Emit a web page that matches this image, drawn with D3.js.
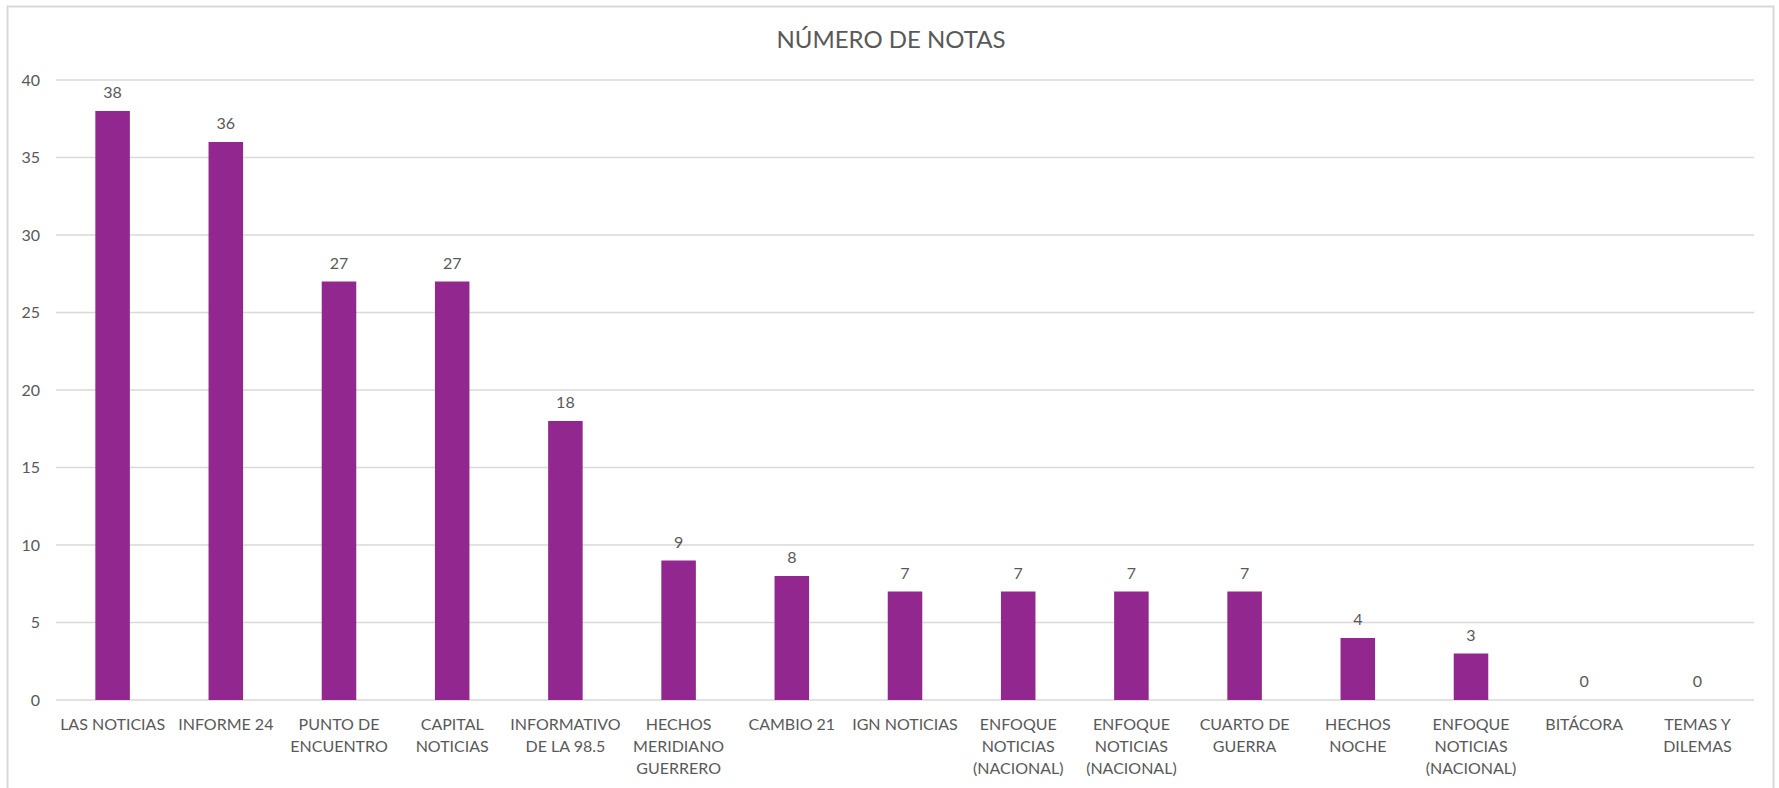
<!DOCTYPE html>
<meta charset="utf-8">
<head>
  <title>Número de notas</title>
  <script src="https://d3js.org/d3.v7.min.js"></script>
  <style>
    body { margin: 0; background: #fff; }
    text { font-family: Lato, "Open Sans", sans-serif; fill: #595959; }
    .grid line { stroke: #d9d9d9; stroke-width: 1.5px; }
  </style>
</head>
<body>
<script>

var categories = [
  "LAS NOTICIAS", "INFORME 24", "PUNTO DE ENCUENTRO", "CAPITAL NOTICIAS",
  "INFORMATIVO DE LA 98.5", "HECHOS MERIDIANO GUERRERO", "CAMBIO 21",
  "IGN NOTICIAS", "ENFOQUE NOTICIAS (NACIONAL)", "ENFOQUE NOTICIAS (NACIONAL)",
  "CUARTO DE GUERRA", "HECHOS NOCHE", "ENFOQUE NOTICIAS (NACIONAL)",
  "BITÁCORA", "TEMAS Y DILEMAS"
];
var values = [38, 36, 27, 27, 18, 9, 8, 7, 7, 7, 7, 4, 3, 0, 0];
var yTicks = [0, 5, 10, 15, 20, 25, 30, 35, 40];
var title = "NÚMERO DE NOTAS";

var W = 1779, H = 788;
var margin = {top: 80, right: 25, bottom: 88, left: 56};

var svg = d3.select("body").append("svg")
    .attr("width", W)
    .attr("height", H);

svg.append("rect")
    .attr("x", 0).attr("y", 0).attr("width", W).attr("height", H)
    .attr("fill", "#fff");

// chart frame
svg.append("rect")
    .attr("x", 7.5).attr("y", 6.5)
    .attr("width", 1766).attr("height", 800)
    .attr("fill", "none")
    .attr("stroke", "#d9d9d9")
    .attr("stroke-width", 2);

var x = d3.scaleBand()
    .domain(d3.range(categories.length))
    .range([margin.left, W - margin.right])
    .paddingInner(0.695)
    .paddingOuter(0.3475);

var y = d3.scaleLinear()
    .domain([0, 40])
    .range([H - margin.bottom, margin.top]);

// gridlines
svg.append("g")
    .attr("class", "grid")
    .selectAll("line")
    .data(yTicks)
  .enter().append("line")
    .attr("x1", margin.left)
    .attr("x2", W - margin.right)
    .attr("y1", function(d) { return y(d); })
    .attr("y2", function(d) { return y(d); });

// y axis labels
var yAxis = svg.append("g")
    .attr("transform", "translate(" + (margin.left - 16) + ",0)")
    .call(d3.axisLeft(y).tickValues(yTicks).tickSize(0).tickPadding(0));
yAxis.select(".domain").remove();
yAxis.selectAll("text")
    .style("font-size", "16px")
    .attr("fill", "#595959");

// bars
svg.selectAll("rect.bar")
    .data(values)
  .enter().append("rect")
    .attr("class", "bar")
    .attr("x", function(d, i) { return x(i); })
    .attr("width", x.bandwidth())
    .attr("y", function(d) { return y(d); })
    .attr("height", function(d) { return y(0) - y(d); })
    .attr("fill", "#92278f");

// value labels
svg.selectAll("text.val")
    .data(values)
  .enter().append("text")
    .attr("class", "val")
    .attr("x", function(d, i) { return x(i) + x.bandwidth() / 2; })
    .attr("y", function(d) { return y(d) - 13; })
    .attr("text-anchor", "middle")
    .style("font-size", "16px")
    .text(function(d) { return d; });

// category labels, wrapped
var lab = svg.selectAll("text.cat")
    .data(categories)
  .enter().append("text")
    .attr("class", "cat")
    .attr("text-anchor", "middle")
    .style("font-size", "16px")
    .attr("transform", function(d, i) {
      return "translate(" + (x(i) + x.bandwidth() / 2) + "," + (y(0) + 30) + ")";
    });

lab.each(function(d) {
  var t = d3.select(this), words = d.split(" "), lines = [], line = [];
  var probe = t.append("tspan");
  words.forEach(function(w) {
    line.push(w);
    probe.text(line.join(" "));
    if (probe.node().getComputedTextLength() > 112 && line.length > 1) {
      line.pop();
      lines.push(line.join(" "));
      line = [w];
    }
  });
  lines.push(line.join(" "));
  probe.remove();
  lines.forEach(function(l, k) {
    t.append("tspan").attr("x", 0).attr("dy", k ? 22 : 0).text(l);
  });
});

// title
svg.append("text")
    .attr("x", 891)
    .attr("y", 48)
    .attr("text-anchor", "middle")
    .style("font-size", "24px")
    .text(title);

</script>
</body>
